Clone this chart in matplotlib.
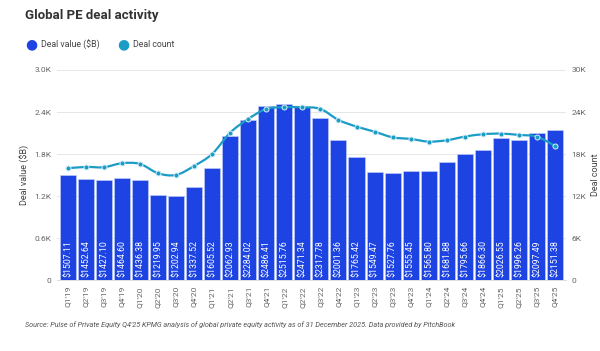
import numpy as np
import matplotlib.pyplot as plt
from matplotlib.path import Path
from matplotlib.patches import PathPatch

plt.rcParams['font.family'] = ['Roboto', 'DejaVu Sans']

quarters = ["Q1'19", "Q2'19", "Q3'19", "Q4'19", "Q1'20", "Q2'20", "Q3'20", "Q4'20",
            "Q1'21", "Q2'21", "Q3'21", "Q4'21", "Q1'22", "Q2'22", "Q3'22", "Q4'22",
            "Q1'23", "Q2'23", "Q3'23", "Q4'23", "Q1'24", "Q2'24", "Q3'24", "Q4'24",
            "Q1'25", "Q2'25", "Q3'25", "Q4'25"]
deal_value = [1507.11, 1452.64, 1427.10, 1464.60, 1436.38, 1219.95, 1202.94, 1337.52,
              1605.52, 2062.93, 2284.02, 2486.41, 2515.76, 2471.34, 2317.78, 2001.36,
              1765.42, 1549.47, 1527.76, 1555.45, 1565.80, 1681.88, 1795.66, 1866.30,
              2026.55, 1996.26, 2097.49, 2151.38]
deal_count = [15990, 16180, 16140, 16710, 16610, 15280, 15040, 16320,
              18030, 21070, 23020, 24450, 24690, 24690, 24450, 22880,
              21930, 21210, 20400, 20170, 19790, 19980, 20500, 20840,
              20930, 20740, 20500, 19170]

bar_col = '#1d44e2'
line_col = '#1b9cc6'
grey = '#666666'

fig = plt.figure(figsize=(6, 3.51), dpi=100)
ax = fig.add_axes([0.095, 0.201, 0.848, 0.5996])
ax2 = ax.twinx()

x = np.arange(len(quarters))
ax.bar(x, deal_value, width=0.89, color=bar_col, edgecolor='#c8d2f8', linewidth=0.4, zorder=2)
for xi, v in zip(x, deal_value):
    ax.text(xi, 45, f"${v:.2f}", rotation=90, ha='center', va='bottom',
            color='white', fontsize=6.3, zorder=3)

ax.set_ylim(0, 3000)
ax.set_xlim(-0.6, 27.6)
ax.set_yticks([0, 600, 1200, 1800, 2400, 3000])
ax.set_yticklabels(['0', '0.6K', '1.2K', '1.8K', '2.4K', '3.0K'])
ax.set_xticks(x)
ax.set_xticklabels(quarters, rotation=90)
ax.grid(axis='y', color='#e6e6e6', linewidth=0.7, zorder=0)
ax.set_axisbelow(True)
ax.set_ylabel('Deal value ($B)', fontsize=6.5, color='#444444')
ax.yaxis.set_label_coords(-0.053, 0.5)

ax2.set_ylim(0, 30000)
ax2.set_yticks([0, 6000, 12000, 18000, 24000, 30000])
ax2.set_yticklabels(['0', '6K', '12K', '18K', '24K', '30K'])
ax2.set_ylabel('Deal count', fontsize=6.5, color='#444444')
ax2.yaxis.set_label_coords(1.05, 0.5)

for a in (ax, ax2):
    for s in a.spines.values():
        s.set_visible(False)
    a.tick_params(length=0, labelsize=6, colors=grey, pad=4)
ax.spines['bottom'].set_visible(True)
ax.spines['bottom'].set_color('#dddddd')
ax.spines['bottom'].set_linewidth(0.7)

# smooth curve through the deal count points (Catmull-Rom as bezier segments)
pts = np.column_stack([x, deal_count]).astype(float)
verts = [tuple(pts[0])]
codes = [Path.MOVETO]
for i in range(len(pts) - 1):
    p0 = pts[max(i - 1, 0)]
    p1 = pts[i]
    p2 = pts[i + 1]
    p3 = pts[min(i + 2, len(pts) - 1)]
    c1 = p1 + (p2 - p0) / 6
    c2 = p2 - (p3 - p1) / 6
    verts += [tuple(c1), tuple(c2), tuple(p2)]
    codes += [Path.CURVE4] * 3
ax2.add_patch(PathPatch(Path(verts, codes), facecolor='none', edgecolor=line_col,
                        linewidth=1.6, zorder=4))
ax2.plot(x, deal_count, linestyle='none', marker='o', markersize=3.6,
         markerfacecolor=line_col, markeredgecolor='#d4eef8', markeredgewidth=0.7, zorder=5)

fig.text(0.042, 0.955, 'Global PE deal activity', fontsize=9.5, fontweight='bold',
         color='#333333', va='center')
fig.text(0.0416, 0.873, '\u25CF', fontsize=10, color=bar_col, va='center')
fig.text(0.068, 0.873, 'Deal value ($B)', fontsize=6.3, color='#444444', va='center')
fig.text(0.196, 0.873, '\u25CF', fontsize=10, color=line_col, va='center')
fig.text(0.222, 0.873, 'Deal count', fontsize=6.3, color='#444444', va='center')

fig.text(0.042, 0.075, "Source: Pulse of Private Equity Q4'25 KPMG analysis of global private equity "
         "activity as of 31 December 2025. Data provided by PitchBook",
         fontsize=5.2, style='italic', color='#555555', va='center')

fig.savefig('out.png', dpi=100, facecolor='white')
